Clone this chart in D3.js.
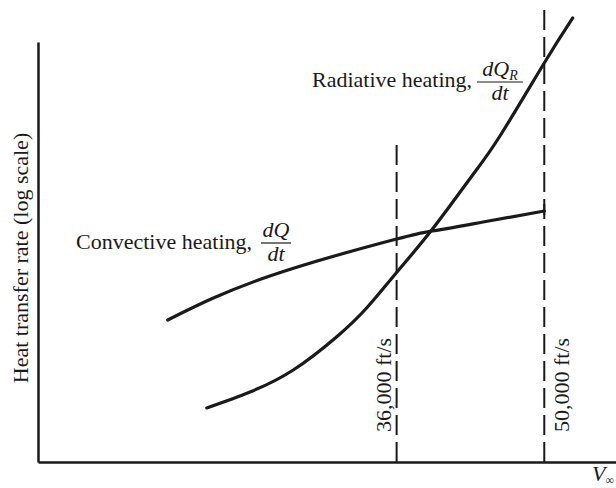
<!DOCTYPE html>
<html>
<head>
<meta charset="utf-8">
<script src="https://cdn.jsdelivr.net/npm/d3@7"></script>
<style>
	body { margin: 0; background: #fff; }
	svg { display: block; font-family: "Liberation Serif", "Times New Roman", serif; }
</style>
</head>
<body>
<svg id="chart" width="616" height="488"></svg>
<script>
// velocity in ft/s, heat transfer rate in arbitrary units (log scale)
const convectiveV = [14300, 23700, 36000, 39400, 44200, 50000];
const convectiveQ = [22.5, 57.8, 133, 158.5, 193, 245.6];
const radiativeV = [18000, 22100, 26200, 30300, 33200, 36000, 39400, 43000, 45800, 50000, 52700];
const radiativeQ = [3.27, 4.64, 7.52, 15.5, 29.6, 63.8, 165.6, 507, 1273, 6310, 16930];
const markerV = [36000, 50000];
const markerLabels = ["36,000 ft/s", "50,000 ft/s"];
const markerTop = [1170, 21000]; // top of each dashed line, in rate units

const svg = d3.select("#chart");
const ink = "#1a1a1a";
const fs = 22;

const x = d3.scaleLinear().domain([2000, 56800]).range([38, 616]);
const y = d3.scaleLog().domain([1, 10000]).range([462, 42]);

// Axes (no ticks, just the bare lines)
svg.append("g")
	.attr("transform", `translate(0,${y(1)})`)
	.call(d3.axisBottom(x).ticks(0).tickSizeOuter(0));
svg.append("g")
	.attr("transform", `translate(${x(2000)},0)`)
	.call(d3.axisLeft(y).ticks(0).tickSizeOuter(0));
svg.selectAll(".domain").attr("stroke", ink).attr("stroke-width", 2.5);
svg.selectAll(".tick").remove();

// Dashed velocity markers
svg.append("g")
	.selectAll("line")
	.data(markerV)
	.join("line")
	.attr("x1", (d) => x(d))
	.attr("x2", (d) => x(d))
	.attr("y1", y(1))
	.attr("y2", (d, i) => y(markerTop[i]))
	.attr("stroke", ink)
	.attr("stroke-width", 2)
	.attr("stroke-dasharray", "20,7");

svg.append("g")
	.selectAll("text")
	.data(markerV)
	.join("text")
	.attr("transform", (d, i) => `translate(${x(d) + (i === 0 ? -6 : 25)},432) rotate(-90)`)
	.attr("font-size", fs)
	.attr("fill", ink)
	.text((d, i) => markerLabels[i]);

// Curves
const line = d3.line()
	.x((d) => x(d[0]))
	.y((d) => y(d[1]))
	.curve(d3.curveNatural);

svg.append("path")
	.datum(d3.zip(convectiveV, convectiveQ))
	.attr("d", line)
	.attr("fill", "none")
	.attr("stroke", ink)
	.attr("stroke-width", 3.2)
	.attr("stroke-linecap", "round");

svg.append("path")
	.datum(d3.zip(radiativeV, radiativeQ))
	.attr("d", line)
	.attr("fill", "none")
	.attr("stroke", ink)
	.attr("stroke-width", 3.2)
	.attr("stroke-linecap", "round");

// small end tick on the convective curve
svg.append("line")
	.attr("x1", x(50000)).attr("x2", x(50000))
	.attr("y1", y(245.6) - 7).attr("y2", y(245.6) + 4)
	.attr("stroke", ink).attr("stroke-width", 2);

// Labels with fractions
function fraction(cx, barY, num, sub, barW) {
	const g = svg.append("g").attr("fill", ink).attr("font-style", "italic").attr("font-size", fs);
	const t = g.append("text").attr("x", cx).attr("y", barY - 6).attr("text-anchor", "middle").text(num);
	if (sub) t.append("tspan").attr("font-size", 14).attr("dy", 4).text(sub);
	g.append("text").attr("x", cx).attr("y", barY + 18).attr("text-anchor", "middle").text("dt");
	g.append("line")
		.attr("x1", cx - barW / 2).attr("x2", cx + barW / 2)
		.attr("y1", barY).attr("y2", barY)
		.attr("stroke", ink).attr("stroke-width", 1.2);
}

svg.append("text")
	.attr("x", 252).attr("y", 249)
	.attr("text-anchor", "end")
	.attr("font-size", fs)
	.attr("fill", ink)
	.text("Convective heating,");
fraction(276, 243, "dQ", null, 30);

svg.append("text")
	.attr("x", 312).attr("y", 87)
	.attr("font-size", fs)
	.attr("fill", ink)
	.text("Radiative heating,");
fraction(500, 82, "dQ", "R", 46);

// Axis titles
svg.append("text")
	.attr("transform", "translate(28,258) rotate(-90)")
	.attr("text-anchor", "middle")
	.attr("font-size", fs)
	.attr("fill", ink)
	.text("Heat transfer rate (log scale)");

const vt = svg.append("text")
	.attr("x", 592).attr("y", 481)
	.attr("font-size", fs)
	.attr("font-style", "italic")
	.attr("fill", ink)
	.text("V");
vt.append("tspan").attr("font-size", 12).attr("dy", 3).attr("font-style", "normal").text("∞");
</script>
</body>
</html>
